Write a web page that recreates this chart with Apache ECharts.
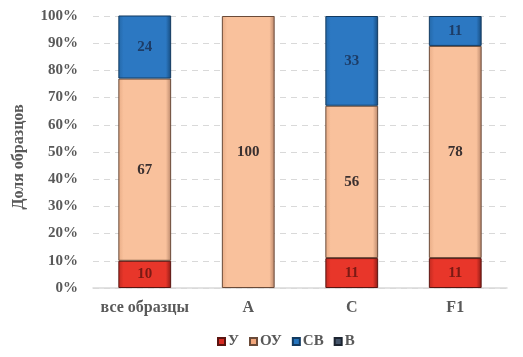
<!DOCTYPE html>
<html><head><meta charset="utf-8">
<script src="https://cdn.jsdelivr.net/npm/echarts@6/dist/echarts.min.js"></script>
<style>html,body{margin:0;padding:0;background:#fff}#c{width:523px;height:357px}</style>
</head><body><div id="c"></div>
<script>
const categories = ['все образцы', 'A', 'C', 'F1'];
const seriesNames = ['У', 'ОУ', 'СВ', 'В'];
const valU  = [10, null, 11, 11];
const valOU = [67, 100, 56, 78];
const valSV = [24, null, 33, 11];
const valV  = [null, null, null, null];
const yTicks = [0, 10, 20, 30, 40, 50, 60, 70, 80, 90, 100];

const font = '"Liberation Serif", "DejaVu Serif", serif';
function grad(edge, mid, right) {
  return new echarts.graphic.LinearGradient(0, 0, 1, 0, [
    {offset: 0, color: edge}, {offset: 0.1, color: mid},
    {offset: 0.9, color: mid}, {offset: 1, color: right}
  ]);
}
const styles = [
  {fill: grad('#c02a20', '#e8362a', '#8a1a14'), border: '#5a1410', legend: '#d62a22', label: '#7a1a14'},
  {fill: grad('#e8ac86', '#f9c19c', '#b8866a'), border: '#6a4a38', legend: '#f2a77c', label: '#3a3030'},
  {fill: grad('#2468a8', '#2c78c2', '#164a7c'), border: '#123a60', legend: '#2574bd', label: '#1d3c66'},
  {fill: grad('#34404f', '#44546a', '#28303c'), border: '#1c2430', legend: '#44546a', label: '#333333'}
];
const data = [valU, valOU, valSV, valV];

const chart = echarts.init(document.getElementById('c'));
chart.setOption({
  animation: false,
  textStyle: {fontFamily: font},
  legend: {
    bottom: 3, left: 212, itemWidth: 7, itemHeight: 7, itemGap: 10,
    icon: 'rect',
    textStyle: {fontFamily: font, fontSize: 15, fontWeight: 'bold', color: '#595959', padding: [0,0,0,-2]},
    data: seriesNames.map((n, i) => ({name: n, itemStyle: {color: styles[i].legend}}))
  },
  grid: {left: 93, right: 16, top: 16, bottom: 69, containLabel: false},
  xAxis: {
    type: 'category', data: categories,
    axisLine: {lineStyle: {color: '#d9d9d9', width: 1.5}},
    axisTick: {show: false},
    axisLabel: {interval: 0, fontFamily: font, fontSize: 16, fontWeight: 'bold', color: '#595959', margin: 12}
  },
  yAxis: {
    type: 'value', min: 0, max: 100, interval: 10,
    name: 'Доля образцов', nameLocation: 'middle', nameGap: 66, nameRotate: 90,
    nameTextStyle: {fontFamily: font, fontSize: 16, fontWeight: 'bold', color: '#595959', padding: [0, 10, 0, 0]},
    axisLine: {show: false}, axisTick: {show: false},
    splitLine: {lineStyle: {color: '#d9d9d9', type: [6, 5], width: 1.2}},
    axisLabel: {fontFamily: font, fontSize: 15, fontWeight: 'bold', color: '#595959', margin: 15,
      formatter: v => yTicks.includes(v) ? v + '%' : ''}
  },
  series: seriesNames.map((n, i) => ({
    name: n, type: 'bar', stack: 'total', barWidth: '51%',
    data: data[i],
    itemStyle: {color: styles[i].fill, borderColor: styles[i].border, borderWidth: 1},
    label: {show: true, position: 'inside', fontFamily: font, fontSize: 15, fontWeight: 'bold',
      color: styles[i].label, formatter: p => p.value == null ? '' : p.value}
  }))
});
</script></body></html>
